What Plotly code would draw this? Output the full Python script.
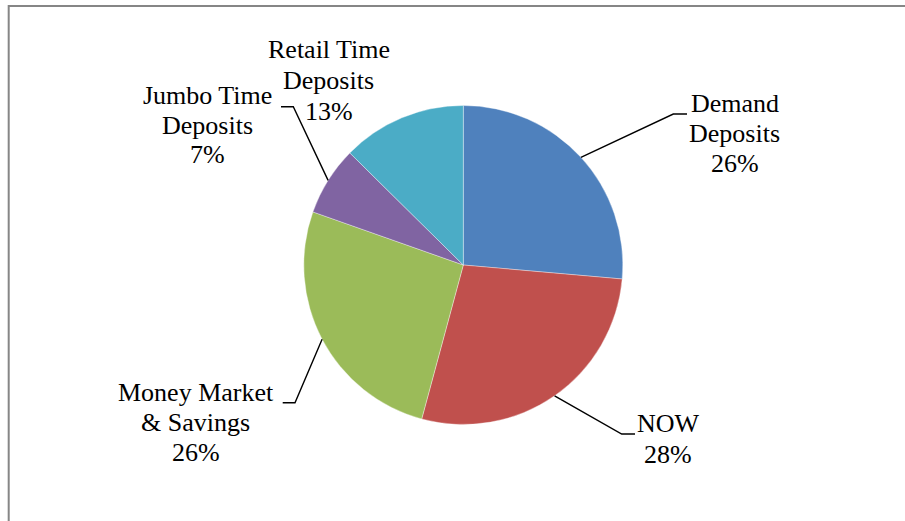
import math
import plotly.graph_objects as go

# ---- data ----
categories = ["Demand Deposits", "NOW", "Money Market & Savings", "Jumbo Time Deposits", "Retail Time Deposits"]
label_lines = [["Demand", "Deposits"], ["NOW"], ["Money Market", "& Savings"], ["Jumbo Time", "Deposits"], ["Retail Time", "Deposits"]]
values = [26.4, 27.8, 26.2, 7.0, 12.6]
colors = ["#4F81BD", "#C0504D", "#9BBB59", "#8064A2", "#4BACC6"]

# ---- layout geometry (pixels) ----
W, H = 905, 521
CX, CY, R = 463.3, 265.0, 159.5
FONT = dict(family="Liberation Serif, Times New Roman, serif", size=26, color="black")

# label centre x and first baseline y, line spacing
label_pos = [(734.5, 112.5, 30), (668.0, 432.5, 30.5), (195.5, 401.0, 30), (207.0, 104.5, 29.5), (328.5, 58.5, 31)]
# leader elbow and end points (None = no leader)
leaders = [((673.3, 114.0), (687.0, 114.0)),
           ((621.7, 434.0), (635.0, 434.0)),
           ((295.0, 402.7), (282.7, 402.7)),
           ((293.3, 106.7), (281.0, 106.7)),
           None]


def px(x):
    return x / W


def py(y):
    return 1 - y / H


fig = go.Figure(go.Pie(
    labels=categories, values=values, sort=False, direction="clockwise", rotation=0,
    marker=dict(colors=colors, line=dict(color="rgba(255,255,255,0.6)", width=0.6)),
    textinfo="none", hoverinfo="label+percent", showlegend=False,
    domain=dict(x=[px(CX - R), px(CX + R)], y=[py(CY + R), py(CY - R)]),
))

total = sum(values)
annotations = []
shapes = []
cum = 0.0
for i, v in enumerate(values):
    mid = (cum + v / 2) / total * 2 * math.pi
    cum += v
    pct = f"{round(v / total * 100)}%"
    lines = label_lines[i] + [pct]
    cx, by, sp = label_pos[i]
    for j, t in enumerate(lines):
        base = by + j * sp
        annotations.append(dict(text=t, x=px(cx), y=py(base - 8.8), xref="paper", yref="paper",
                                xanchor="center", yanchor="middle", showarrow=False, font=FONT))
    if leaders[i] is not None:
        sx = CX + R * math.sin(mid)
        sy = CY - R * math.cos(mid)
        (ex, ey), (fx, fy) = leaders[i]
        shapes.append(dict(type="path", xref="paper", yref="paper",
                           path=f"M {px(sx)} {py(sy)} L {px(ex)} {py(ey)} L {px(fx)} {py(fy)}",
                           line=dict(color="black", width=1.4)))

# chart border
shapes.append(dict(type="rect", xref="paper", yref="paper", x0=px(8.7), y0=py(540), x1=px(930), y1=py(6),
                   line=dict(color="#868686", width=2), fillcolor="rgba(0,0,0,0)"))

fig.update_layout(width=W, height=H, margin=dict(l=0, r=0, t=0, b=0),
                  paper_bgcolor="white", plot_bgcolor="white",
                  annotations=annotations, shapes=shapes)

fig.write_html("out.html", config={"displayModeBar": False},
               post_script="document.body.style.margin='0';document.body.style.overflow='hidden';")
